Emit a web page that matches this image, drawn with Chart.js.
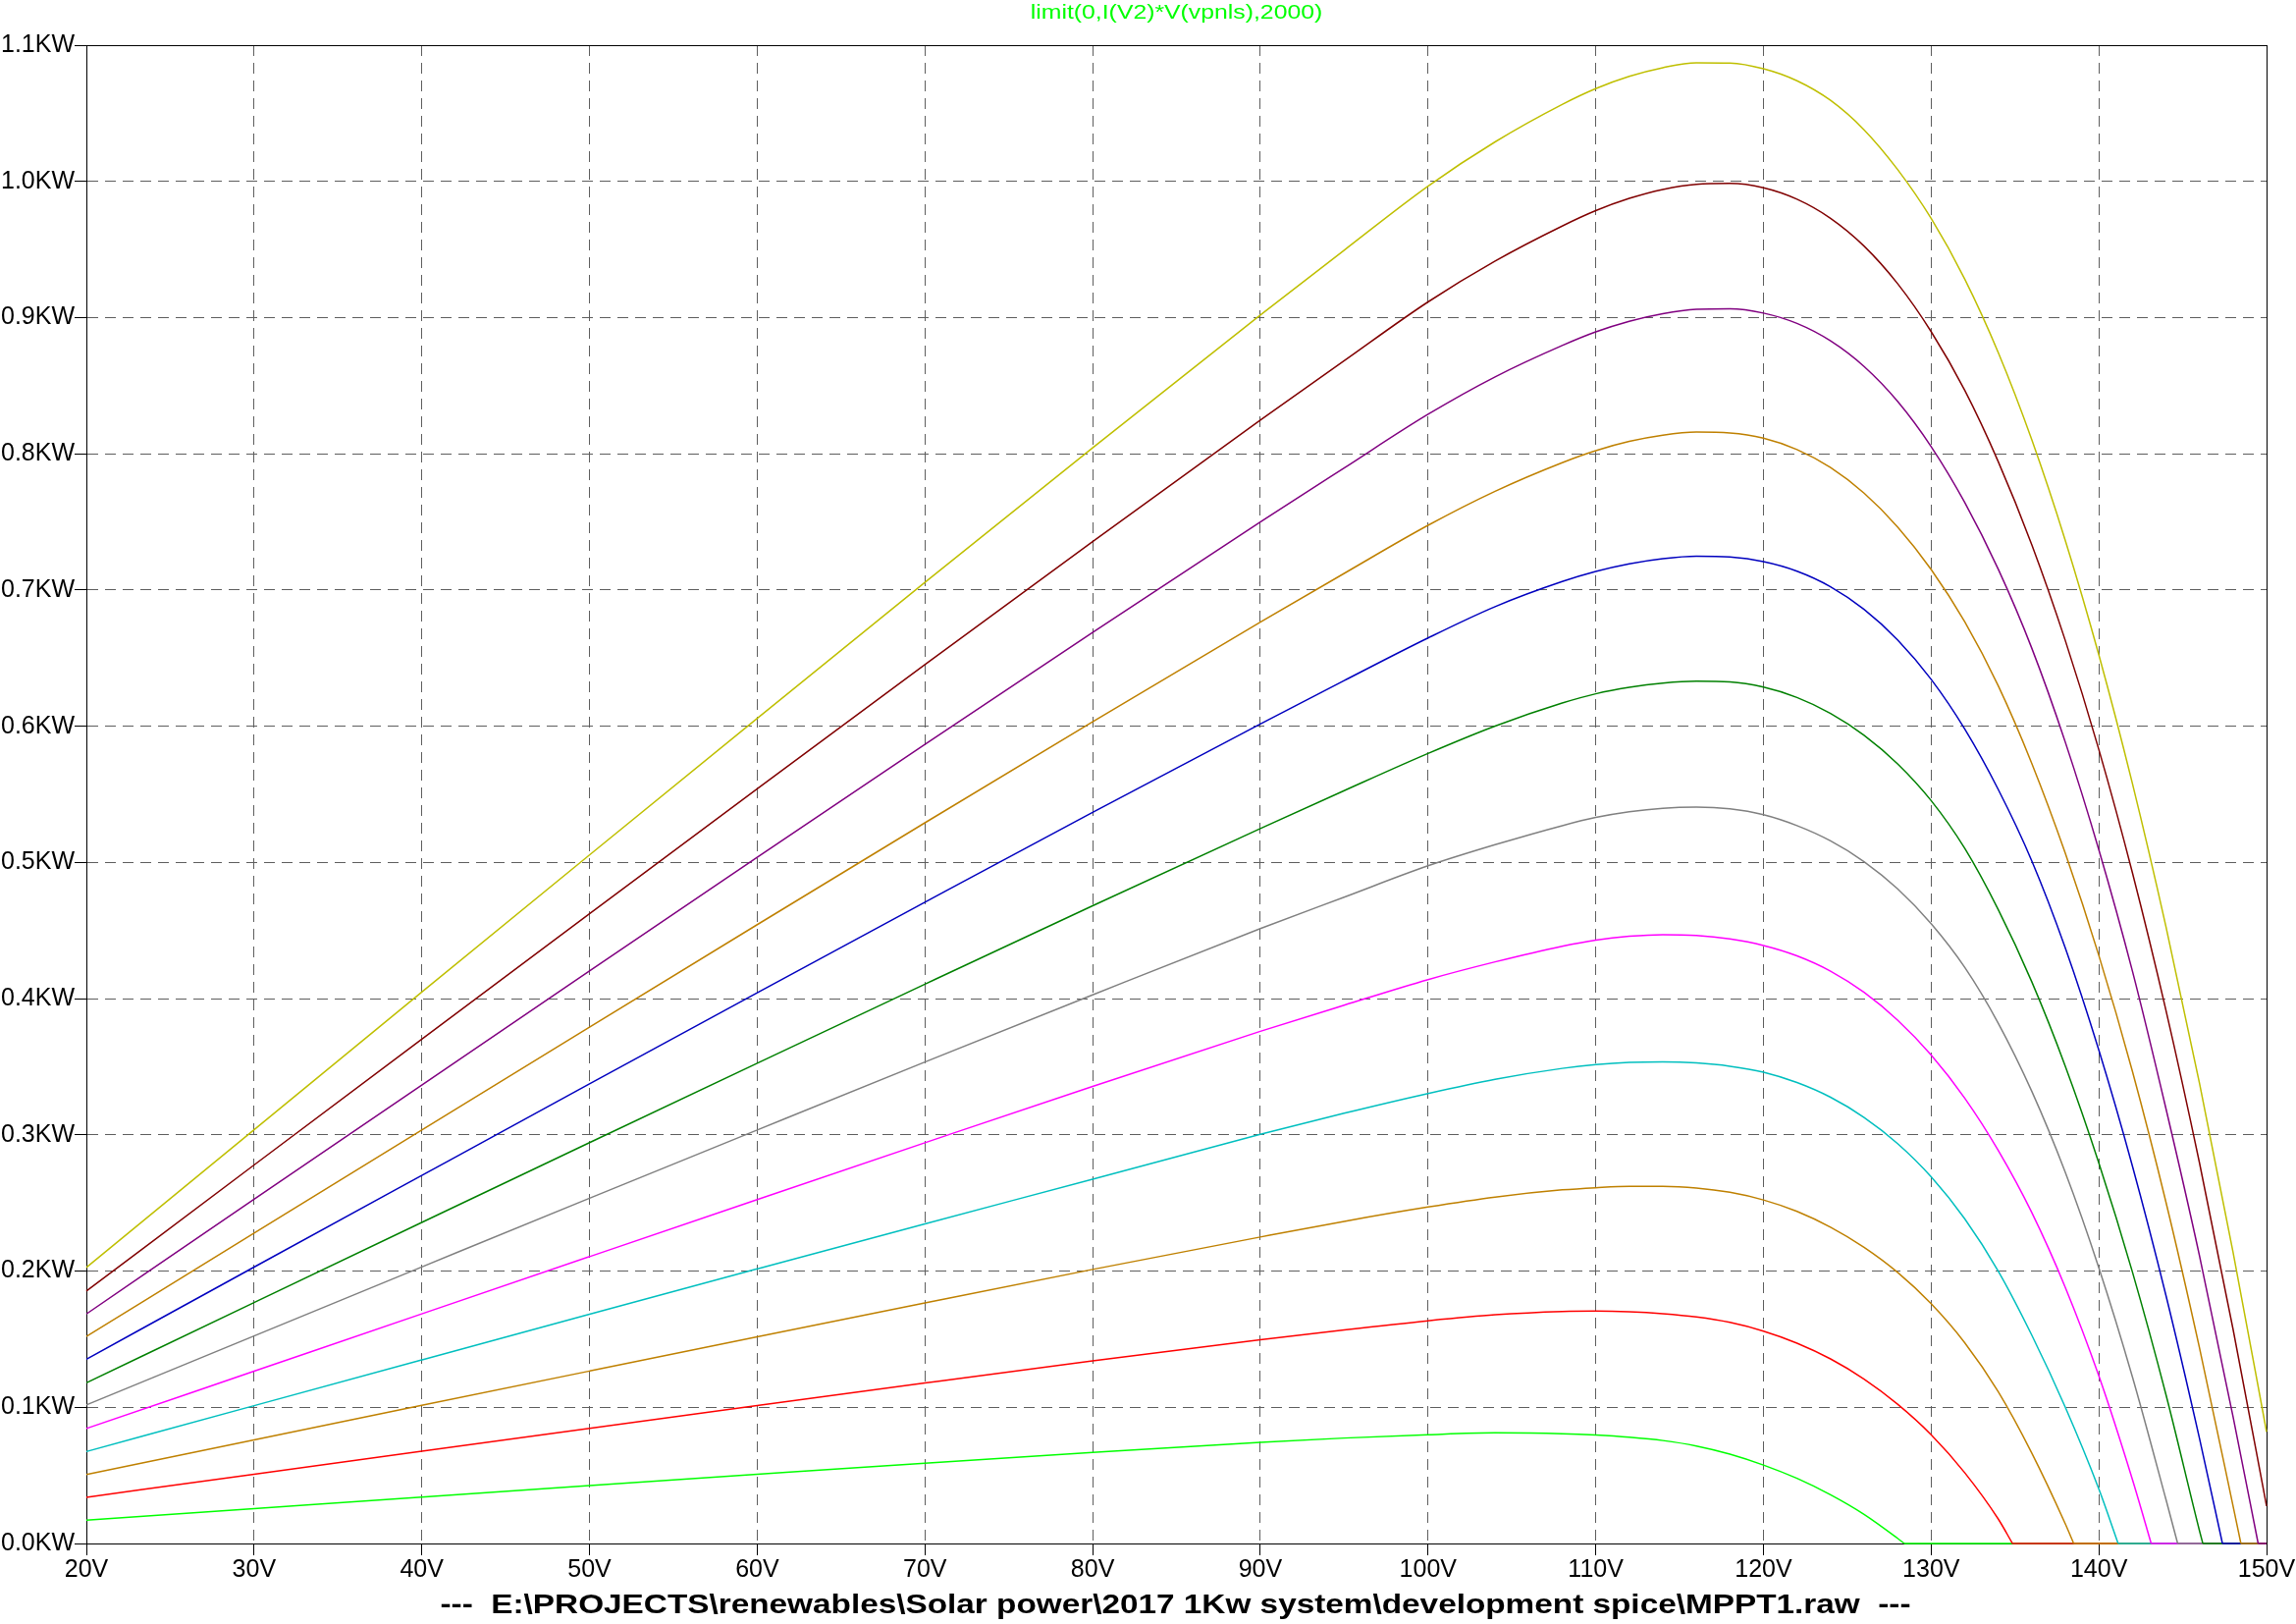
<!DOCTYPE html>
<html>
<head>
<meta charset="utf-8">
<script src="https://cdn.jsdelivr.net/npm/chart.js@4/dist/chart.umd.min.js"></script>
<style>
  html, body { margin: 0; padding: 0; background: #ffffff; }
  #wrap { position: relative; width: 2339px; height: 1654px; }
  canvas { display: block; }
</style>
</head>
<body>
<div id="wrap"><canvas id="c" width="2339" height="1654"></canvas></div>
<script>
// ---------------- DATA ----------------
const titleText = 'limit(0,I(V2)*V(vpnls),2000)';
const footerText = '---  E:\\PROJECTS\\renewables\\Solar power\\2017 1Kw system\\development spice\\MPPT1.raw  ---';

const voltages = [20,30,40,50,60,70,80,90,95,100,104,108,110,112,114,116,118,120,122,124,126,128,130,132,134,136,138,140,142,144,146,148,150];

const xTickValues = [20,30,40,50,60,70,80,90,100,110,120,130,140,150];
const xTickLabels = ['20V','30V','40V','50V','60V','70V','80V','90V','100V','110V','120V','130V','140V','150V'];
const yTickValues = [0,0.1,0.2,0.3,0.4,0.5,0.6,0.7,0.8,0.9,1.0,1.1];
const yTickLabels = ['0.0KW','0.1KW','0.2KW','0.3KW','0.4KW','0.5KW','0.6KW','0.7KW','0.8KW','0.9KW','1.0KW','1.1KW'];

// power (KW) of each stepped trace, bottom to top, read at the voltages above
const p01 = [0.0171,0.0256,0.0341,0.0425,0.0508,0.0590,0.0669,0.0743,0.0774,0.0799,0.0812,0.0806,0.0796,0.0780,0.0756,0.0716,0.0656,0.0576,0.0478,0.0358,0.0214,0.0038,0,0,0,0,0,0,0,0,0,0,0];
const p02 = [0.0339,0.0509,0.0678,0.0846,0.1013,0.1178,0.1340,0.1495,0.1568,0.1635,0.1679,0.1703,0.1706,0.1701,0.1687,0.1663,0.1623,0.1559,0.1471,0.1355,0.1207,0.1023,0.0799,0.0520,0.0180,0,0,0,0,0,0,0,0];
const p03 = [0.0507,0.0761,0.1014,0.1266,0.1517,0.1766,0.2012,0.2250,0.2365,0.2470,0.2543,0.2596,0.2612,0.2622,0.2622,0.2610,0.2578,0.2522,0.2438,0.2322,0.2174,0.1990,0.1760,0.1474,0.1114,0.0664,0.0144,0,0,0,0,0,0];
const p04 = [0.0675,0.1012,0.1348,0.1683,0.2016,0.2347,0.2674,0.3004,0.3159,0.3304,0.3408,0.3488,0.3516,0.3532,0.3536,0.3528,0.3504,0.3460,0.3384,0.3276,0.3128,0.2936,0.2692,0.2384,0.2000,0.1530,0.1000,0.0400,0,0,0,0,0];
const p05 = [0.0844,0.1265,0.1686,0.2106,0.2525,0.2942,0.3356,0.3760,0.3952,0.4140,0.4270,0.4385,0.4430,0.4458,0.4470,0.4464,0.4438,0.4390,0.4314,0.4202,0.4046,0.3842,0.3586,0.3270,0.2886,0.2430,0.1880,0.1230,0.0470,0,0,0,0];
const p06 = [0.1017,0.1524,0.2030,0.2535,0.3036,0.3535,0.4028,0.4514,0.4745,0.4975,0.5130,0.5270,0.5330,0.5372,0.5398,0.5406,0.5393,0.5350,0.5270,0.5158,0.5006,0.4806,0.4550,0.4230,0.3820,0.3320,0.2724,0.2024,0.1224,0.0324,0,0,0];
const p07 = [0.1180,0.1769,0.2357,0.2943,0.3526,0.4106,0.4682,0.5249,0.5527,0.5800,0.6001,0.6170,0.6238,0.6285,0.6316,0.6330,0.6325,0.6287,0.6211,0.6094,0.5934,0.5724,0.5454,0.5104,0.4654,0.4124,0.3504,0.2794,0.1994,0.1094,0.0094,0,0];
const p08 = [0.1353,0.2029,0.2702,0.3374,0.4043,0.4708,0.5368,0.6016,0.6335,0.6648,0.6878,0.7062,0.7136,0.7192,0.7230,0.7248,0.7242,0.7208,0.7138,0.7024,0.6858,0.6634,0.6344,0.5980,0.5536,0.5012,0.4372,0.3622,0.2772,0.1822,0.0772,0,0];
const p09 = [0.1520,0.2279,0.3036,0.3791,0.4543,0.5291,0.6032,0.6764,0.7122,0.7475,0.7725,0.7935,0.8023,0.8091,0.8137,0.8159,0.8153,0.8115,0.8031,0.7899,0.7711,0.7463,0.7151,0.6767,0.6297,0.5727,0.5067,0.4317,0.3467,0.2507,0.1437,0.0277,0];
const p10 = [0.1685,0.2527,0.3366,0.4203,0.5037,0.5866,0.6688,0.7499,0.7896,0.8290,0.8565,0.8795,0.8895,0.8973,0.9029,0.9061,0.9065,0.9033,0.8957,0.8829,0.8641,0.8385,0.8053,0.7643,0.7153,0.6573,0.5883,0.5093,0.4203,0.3193,0.2113,0.0933,0];
const p11 = [0.1853,0.2779,0.3702,0.4623,0.5540,0.6452,0.7356,0.8247,0.8683,0.9115,0.9415,0.9672,0.9785,0.9875,0.9941,0.9979,0.9985,0.9953,0.9869,0.9729,0.9525,0.9249,0.8897,0.8467,0.7943,0.7333,0.6629,0.5829,0.4925,0.3915,0.2795,0.1575,0.0275];
const p12 = [0.2026,0.3038,0.4048,0.5055,0.6058,0.7056,0.8044,0.9018,0.9495,0.9965,1.0290,1.0565,1.0681,1.0771,1.0835,1.0871,1.0869,1.0827,1.0739,1.0595,1.0379,1.0087,0.9728,0.9284,0.8744,0.8104,0.7364,0.6524,0.5580,0.4530,0.3380,0.2140,0.0820];

// voltage where each trace is limited to 0 (null = not reached inside the plot)
const vocs = [128.4,134.85,138.5,141.15,143.12,144.7,146.2,147.37,148.47,149.5,null,null];

const traceColors = ['#00ff00','#ff0000','#bf8000','#00bfbf','#ff00ff','#808080','#008000','#0000bf','#bf8000','#800080','#800000','#bfbf00'];

const seriesValues = [p01,p02,p03,p04,p05,p06,p07,p08,p09,p10,p11,p12];

// ---------------- BUILD ----------------
const FONT = "'Liberation Sans', Arial, Helvetica, sans-serif";
const vMax = voltages[voltages.length - 1];
const datasets = [];
seriesValues.forEach((vals, k) => {
  const voc = vocs[k];
  const pts = [];
  voltages.forEach((v, i) => {
    if (voc === null || v < voc) pts.push({x: v, y: vals[i]});
  });
  if (voc !== null) pts.push({x: voc, y: 0});
  datasets.push({
    data: pts,
    borderColor: traceColors[k],
    backgroundColor: traceColors[k],
    borderWidth: 1.5,
    pointRadius: 0,
    cubicInterpolationMode: 'monotone',
    fill: false,
    order: 30 - k,
    clip: 4
  });
  if (voc !== null) {
    datasets.push({
      data: [{x: voc, y: 0}, {x: vMax, y: 0}],
      borderColor: traceColors[k],
      backgroundColor: traceColors[k],
      borderWidth: 1.6,
      pointRadius: 0,
      tension: 0,
      fill: false,
      order: 30 - k,
      clip: 4
    });
  }
});

const framePlugin = {
  id: 'frame',
  beforeDatasetsDraw(chart) {
    const {ctx, chartArea: a} = chart;
    ctx.save();
    ctx.strokeStyle = '#000000';
    ctx.lineWidth = 1;
    ctx.strokeRect(Math.round(a.left) + 0.5, Math.round(a.top) + 0.5,
                   Math.round(a.right - a.left), Math.round(a.bottom - a.top));
    ctx.restore();
  }
};

const textPlugin = {
  id: 'texts',
  afterDraw(chart) {
    const {ctx, chartArea: a} = chart;
    const cx = (a.left + a.right) / 2;
    ctx.save();
    ctx.textAlign = 'center';
    ctx.textBaseline = 'alphabetic';
    ctx.save();
    ctx.translate(cx, 19);
    ctx.scale(1.18, 1);
    ctx.fillStyle = '#00ff00';
    ctx.font = '21px ' + FONT;
    ctx.fillText(titleText, 0, 0);
    ctx.restore();
    ctx.save();
    ctx.translate(cx - 1, 1643);
    ctx.scale(1.19, 1);
    ctx.fillStyle = '#000000';
    ctx.font = 'bold 28px ' + FONT;
    ctx.fillText(footerText, 0, 0);
    ctx.restore();
    ctx.restore();
  }
};

const gridOpts = {
  color: '#5e5e5e',
  lineWidth: 1,
  drawTicks: true,
  tickLength: 12,
  tickColor: '#000000',
  tickWidth: 1,
  tickBorderDash: []
};

new Chart(document.getElementById('c'), {
  type: 'line',
  data: { datasets },
  plugins: [framePlugin, textPlugin],
  options: {
    responsive: false,
    animation: false,
    devicePixelRatio: 1,
    layout: { padding: { left: 0, right: 30, top: 46, bottom: 0 } },
    plugins: { legend: { display: false }, tooltip: { enabled: false }, title: { display: false } },
    scales: {
      x: {
        type: 'linear',
        min: xTickValues[0],
        max: xTickValues[xTickValues.length - 1],
        afterBuildTicks: (s) => { s.ticks = xTickValues.map(v => ({value: v})); },
        afterFit: (s) => { s.height = 82; },
        ticks: {
          autoSkip: false,
          maxRotation: 0,
          padding: 0,
          color: '#000000',
          font: { family: FONT, size: 25 },
          callback: (v) => { const i = xTickValues.indexOf(v); return i >= 0 ? xTickLabels[i] : ''; }
        },
        grid: gridOpts,
        border: { display: true, color: '#000000', width: 1, dash: [11, 7] }
      },
      y: {
        type: 'linear',
        min: yTickValues[0],
        max: yTickValues[yTickValues.length - 1],
        afterBuildTicks: (s) => { s.ticks = yTickValues.map(v => ({value: v})); },
        afterFit: (s) => { s.width = 88; },
        ticks: {
          autoSkip: false,
          padding: 0,
          color: '#000000',
          font: { family: FONT, size: 25 },
          callback: (v) => {
            let best = 0;
            yTickValues.forEach((t, i) => { if (Math.abs(t - v) < Math.abs(yTickValues[best] - v)) best = i; });
            return yTickLabels[best];
          }
        },
        grid: gridOpts,
        border: { display: true, color: '#000000', width: 1, dash: [11, 7] }
      }
    }
  }
});
</script>
</body>
</html>
